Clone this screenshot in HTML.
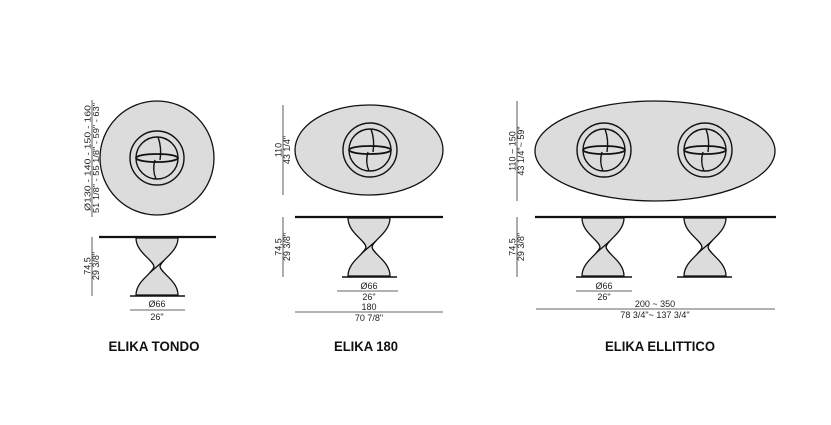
<!DOCTYPE html>
<html><head><meta charset="utf-8"><style>
html,body{margin:0;padding:0;background:#fff;}
svg{display:block;font-family:"Liberation Sans",sans-serif;}
</style></head><body>
<svg id="s" width="831" height="425" viewBox="0 0 831 425" xmlns="http://www.w3.org/2000/svg">
<g fill="#dcdcdc" stroke="#111" stroke-width="1.3">
<circle cx="157" cy="158" r="57"/>
<ellipse cx="369" cy="150" rx="74" ry="45"/>
<ellipse cx="655" cy="151" rx="120" ry="50"/>
</g>
<g id="rings" fill="none" stroke="#111" stroke-width="1.4"></g>
<g id="legs" fill="#dcdcdc" stroke="#111" stroke-width="1.3"></g>
<g stroke="#111" stroke-width="2.2">
<line x1="99" y1="237" x2="216" y2="237"/>
<line x1="295" y1="217" x2="443" y2="217"/>
<line x1="535" y1="217" x2="776" y2="217"/>
</g>
<g stroke="#111" stroke-width="1.5">
<line x1="130" y1="296" x2="185" y2="296"/>
<line x1="342" y1="277" x2="397" y2="277"/>
<line x1="576" y1="277" x2="632" y2="277"/>
<line x1="677" y1="277" x2="732" y2="277"/>
</g>
<g stroke="#333" stroke-width="0.8">
<line x1="92" y1="100" x2="92" y2="217"/>
<line x1="92" y1="237" x2="92" y2="296"/>
<line x1="130" y1="310" x2="185" y2="310"/>
<line x1="283" y1="105" x2="283" y2="195"/>
<line x1="283" y1="217" x2="283" y2="277"/>
<line x1="337" y1="291" x2="398" y2="291"/>
<line x1="295" y1="312" x2="443" y2="312"/>
<line x1="517" y1="101" x2="517" y2="201"/>
<line x1="517" y1="217" x2="517" y2="277"/>
<line x1="576" y1="291" x2="632" y2="291"/>
<line x1="536" y1="309" x2="775" y2="309"/>
</g>
<g font-size="9" fill="#222" text-anchor="middle">
<text transform="translate(90.5,158) rotate(-90)" font-size="8" textLength="106" lengthAdjust="spacingAndGlyphs">Ø130 - 140 - 150 - 160</text>
<text transform="translate(99,158) rotate(-90)" font-size="8" textLength="110" lengthAdjust="spacingAndGlyphs">51 1/8" - 55 1/8" - 59" - 63"</text>
<text transform="translate(90.5,266) rotate(-90)">74,5</text>
<text transform="translate(99,266) rotate(-90)">29 3/8"</text>
<text x="157" y="307">Ø66</text>
<text x="157" y="320">26"</text>
<text transform="translate(281.5,150) rotate(-90)">110</text>
<text transform="translate(290,150) rotate(-90)">43 1/4"</text>
<text transform="translate(281.5,247) rotate(-90)">74,5</text>
<text transform="translate(290,247) rotate(-90)">29 3/8"</text>
<text x="369" y="289">Ø66</text>
<text x="369" y="300">26"</text>
<text x="369" y="310">180</text>
<text x="369" y="321">70 7/8"</text>
<text transform="translate(515.5,151) rotate(-90)">110 ~ 150</text>
<text transform="translate(524,151) rotate(-90)">43 1/4"~ 59"</text>
<text transform="translate(515.5,247) rotate(-90)">74,5</text>
<text transform="translate(524,247) rotate(-90)">29 3/8"</text>
<text x="604" y="289">Ø66</text>
<text x="604" y="300">26"</text>
<text x="655" y="307">200 ~ 350</text>
<text x="655" y="318">78 3/4"~ 137 3/4"</text>
</g>
<g font-size="13.5" font-weight="bold" fill="#111" text-anchor="middle">
<text x="154" y="351" textLength="91" lengthAdjust="spacingAndGlyphs">ELIKA TONDO</text>
<text x="366" y="351" textLength="64" lengthAdjust="spacingAndGlyphs">ELIKA 180</text>
<text x="660" y="351" textLength="110" lengthAdjust="spacingAndGlyphs">ELIKA ELLITTICO</text>
</g>
<script>
var NS="http://www.w3.org/2000/svg";
function el(p,t,a){var e=document.createElementNS(NS,t);for(var k in a)e.setAttribute(k,a[k]);document.getElementById(p).appendChild(e);}
function ring(cx,cy){
 el("rings","circle",{cx:cx,cy:cy,r:27});
 el("rings","circle",{cx:cx,cy:cy,r:21});
 el("rings","ellipse",{cx:cx,cy:cy,rx:21,ry:4,"stroke-width":1.8});
 el("rings","path",{d:"M"+(cx+1)+","+(cy-21)+" Q"+(cx+5)+","+(cy-10)+" "+(cx+3)+","+(cy+2)});
 el("rings","path",{d:"M"+(cx-2)+","+(cy+2)+" Q"+(cx-5)+","+(cy+12)+" "+(cx-1)+","+(cy+21)});
}
function leg(cx,t,b,w){
 var m=(t+b)/2,h=b-t;
 var d="M"+(cx-w)+","+t+" C"+(cx-w)+","+(t+h*0.25)+" "+(cx-4)+","+(m-h*0.12)+" "+(cx-3)+","+m+
 " C"+(cx-4)+","+(m+h*0.12)+" "+(cx-w)+","+(b-h*0.25)+" "+(cx-w)+","+b+
 " L"+(cx+w)+","+b+" C"+(cx+w)+","+(b-h*0.25)+" "+(cx+4)+","+(m+h*0.12)+" "+(cx+3)+","+m+
 " C"+(cx+4)+","+(m-h*0.12)+" "+(cx+w)+","+(t+h*0.25)+" "+(cx+w)+","+t+" Z";
 el("legs","path",{d:d});
 el("legs","line",{x1:cx-7,y1:m+6,x2:cx+7,y2:m-6});
}
ring(157,158);ring(370,150);ring(604,150);ring(705,150);
leg(157,238,295,21);leg(369,218,276,21);leg(603,218,276,21);leg(705,218,276,21);
</script>
</svg>
</body></html>
